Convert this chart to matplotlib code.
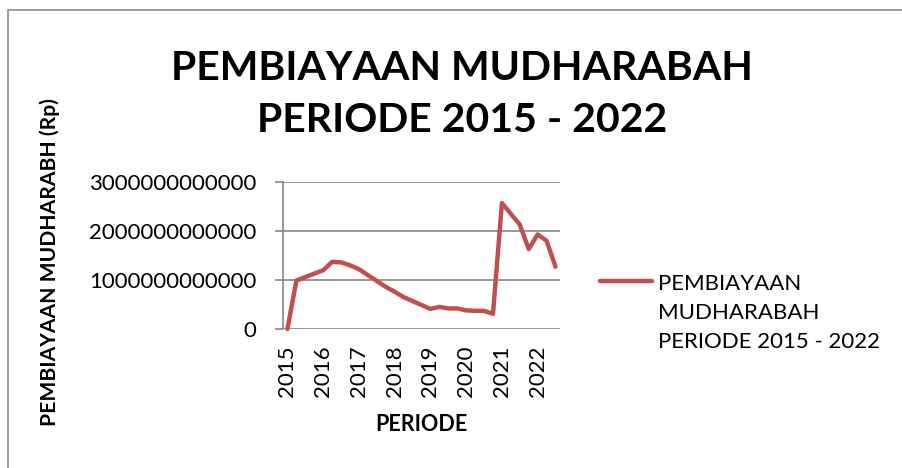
import numpy as np
import matplotlib
matplotlib.use("Agg")
import matplotlib.pyplot as plt
from matplotlib.legend_handler import HandlerLine2D
from matplotlib.lines import Line2D
from matplotlib.patches import Rectangle

# ---- data (quarterly) ----
years = ["2015", "2016", "2017", "2018", "2019", "2020", "2021", "2022"]
values = [0.00, 0.99, 1.06, 1.13, 1.20, 1.37, 1.36, 1.30,
          1.22, 1.10, 0.98, 0.86, 0.76, 0.65, 0.57, 0.49,
          0.41, 0.45, 0.42, 0.42, 0.38, 0.37, 0.37, 0.31,
          2.57, 2.35, 2.13, 1.63, 1.93, 1.80, 1.27]   # x 1e12 Rp
y_ticks = [0, 1, 2, 3]                                 # x 1e12 Rp

series_name = "PEMBIAYAAN\nMUDHARABAH\nPERIODE 2015 - 2022"

plt.rcParams['font.family'] = ['Lato', 'DejaVu Sans']

W, H = 902, 468
fig = plt.figure(figsize=(W / 100, H / 100), dpi=100)

def fx(px):
    return px / W

def fy(py):
    return 1 - py / H

# chart border (Excel chart area)
fig.patches.append(Rectangle((fx(8), fy(H + 20)), 1.2, fy(10) - fy(H + 20),
                             transform=fig.transFigure, fill=False,
                             edgecolor="#8c8c8c", linewidth=1.2))

left, right, top, bottom = 283, 560, 182, 329
ax = fig.add_axes([fx(left), fy(bottom), fx(right - left), fy(top) - fy(bottom)])

x = np.arange(len(values))
y = np.array(values) * 1e12
line, = ax.plot(x, y, color="#C0504D", linewidth=3.2, solid_joinstyle="round",
                solid_capstyle="round", label=series_name, clip_on=False)

ax.set_xlim(-0.5, len(values) - 0.5)
ax.set_ylim(0, 3e12)
ax.set_yticks([v * 1e12 for v in y_ticks])
ax.set_yticklabels([str(int(v * 1e12)) for v in y_ticks])
ax.set_xticks(x[::4])
ax.set_xticklabels(years, rotation=90)
ax.yaxis.grid(True, color="#868686", linewidth=1.2)
ax.set_axisbelow(True)
for s in ["top", "right", "bottom"]:
    ax.spines[s].set_visible(False)
ax.spines["left"].set_color("#868686")
ax.spines["left"].set_linewidth(1.2)
ax.tick_params(axis="y", length=6, width=1.2, color="#868686", labelsize=16, pad=13)
ax.tick_params(axis="x", length=0, labelsize=16, pad=12)

ax.set_xlabel("PERIODE", fontsize=15.5, fontweight="bold", labelpad=12)
fig.text(fx(50), fy(262), "PEMBIAYAAN MUDHARABH (Rp)", rotation=90,
         ha="center", va="center", fontsize=15.2, fontweight="bold")

fig.text(fx(462), fy(94), "PEMBIAYAAN MUDHARABAH\nPERIODE 2015 - 2022",
         ha="center", va="center", fontsize=29.5, fontweight="bold", linespacing=1.5)


class TopLineHandler(HandlerLine2D):
    # put the legend key level with the first text line, as Excel does
    def create_artists(self, *args, **kwargs):
        arts = super().create_artists(*args, **kwargs)
        for a in arts:
            a.set_ydata(np.asarray(a.get_ydata()) + 23.5)
        return arts


leg = fig.legend(handles=[line], labels=[series_name], loc="center left",
                 bbox_to_anchor=(fx(600), fy(313)), frameon=False, fontsize=16,
                 borderpad=0, borderaxespad=0,
                 handlelength=2.35, handletextpad=0.27,
                 handler_map={Line2D: TopLineHandler()})
for t in leg.get_texts():
    t.set_linespacing(1.55)

fig.savefig("out.png", dpi=100)
